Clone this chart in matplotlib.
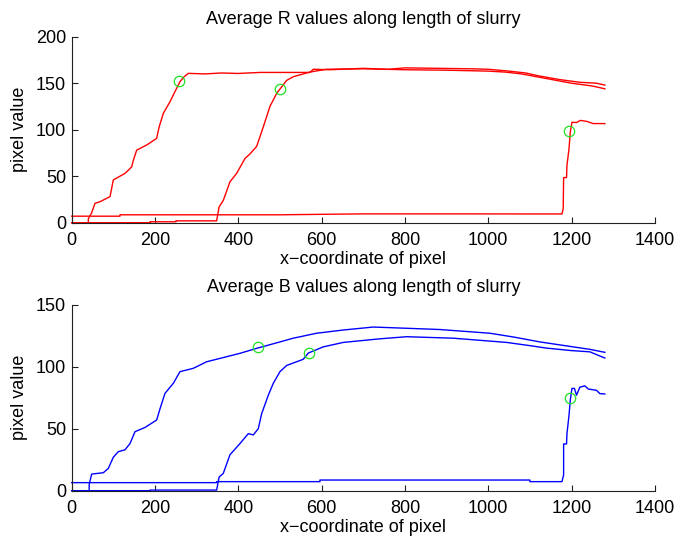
import matplotlib
matplotlib.use("Agg")
import matplotlib.pyplot as plt

plt.rcParams['font.family'] = ['Liberation Sans', 'DejaVu Sans']
plt.rcParams['font.size'] = 13

# ---------------- R channel ----------------
r_a_x = [0, 40, 40, 48, 56, 68, 92, 100, 128, 144, 148, 156, 180, 204, 210, 220, 236, 248, 260, 270, 280,
         320, 360, 400, 452, 500, 572, 580, 620, 700, 760, 800, 880, 960, 1000, 1050, 1090, 1120, 1170, 1220, 1260, 1280]
r_a_y = [0, 0, 4, 10.7, 20.8, 22.6, 28, 46, 53, 60, 67, 78, 83.5, 90.7, 103, 117.6, 130, 141, 151.6, 157, 160.6,
         160, 161, 160.5, 161.6, 161.6, 161.6, 165, 164.5, 166, 165, 166.5, 166, 165.5, 165, 163, 161, 158, 154, 151, 150, 148]
r_b_x = [0, 188, 188, 250, 250, 348, 354, 364, 380, 396, 416, 428, 444, 460, 476, 492, 504, 516, 532, 548, 572, 612,
         700, 800, 900, 1000, 1040, 1080, 1140, 1200, 1250, 1280]
r_b_y = [0, 0, 1, 1, 2, 2, 17, 24, 44, 53, 69, 74, 82, 103, 125, 139, 146, 153, 157, 159, 162, 165,
         165.5, 164.5, 164, 163, 162, 160, 155, 150, 147, 144]
r_c_x = [0, 116, 116, 500, 600, 700, 900, 1100, 1177, 1180, 1181, 1188, 1189, 1194, 1197, 1201, 1212, 1221, 1236, 1252, 1280]
r_c_y = [7, 7, 8.5, 8.5, 9, 9.5, 9.5, 9.4, 9.4, 15, 48.5, 48.5, 61.7, 79.6, 97.5, 108, 107.7, 110, 109, 106.6, 106.6]
r_mark_x = [258, 500, 1195]
r_mark_y = [152, 144, 98.5]

# ---------------- B channel ----------------
b_a_x = [0, 42, 42, 48, 76, 88, 100, 112, 128, 140, 152, 176, 204, 212, 224, 244, 260, 292, 324, 356, 404,
         444, 500, 532, 588, 652, 724, 804, 884, 1004, 1060, 1124, 1164, 1204, 1244, 1280]
b_a_y = [0, 0, 5, 13.4, 14.5, 18, 27, 31.5, 33, 38, 47.6, 51, 57, 66, 78.5, 86.6, 96, 98.7, 104, 106.7, 110.8,
         114.8, 120, 123, 127, 129.6, 132, 131, 130, 127, 124, 120, 118, 116, 114, 111.6]
b_b_x = [0, 188, 188, 348, 354, 364, 380, 404, 424, 436, 448, 456, 472, 484, 500, 516, 556, 568, 604, 652,
         740, 804, 916, 1044, 1100, 1140, 1200, 1244, 1280]
b_b_y = [0, 0, 0.5, 0.5, 11, 14, 29, 38, 46, 45, 50, 62, 77, 86.6, 96, 101, 106, 111, 116, 119.6,
         122.5, 124.2, 123, 119.6, 117, 115, 113, 112, 107]
b_c_x = [0, 348, 348, 596, 596, 1100, 1100, 1177, 1181, 1181, 1188, 1189, 1194, 1197, 1201, 1207, 1212, 1220,
         1232, 1240, 1260, 1268, 1280]
b_c_y = [6.5, 6.5, 7.3, 7.3, 8.6, 8.6, 7.3, 7.3, 12.7, 37.7, 37.7, 46, 61, 73, 82.5, 82.5, 77, 83.5,
         84.6, 82, 81, 78.3, 78]
b_mark_x = [447, 570, 1197]
b_mark_y = [116, 111, 75]

titles = ["Average R values along length of slurry", "Average B values along length of slurry"]
x_ticks = [0, 200, 400, 600, 800, 1000, 1200, 1400]
r_yticks = [0, 50, 100, 150, 200]
b_yticks = [0, 50, 100, 150]

fig = plt.figure(figsize=(6.8, 5.4), dpi=100)
ax1 = fig.add_axes([0.1054, 0.5876, 0.8576, 0.3444])
ax2 = fig.add_axes([0.1054, 0.0913, 0.8576, 0.3444])

green = '#22e022'

def style(ax, yticks, title):
    ax.set_xlim(0, 1400)
    ax.set_ylim(yticks[0], yticks[-1])
    ax.set_xticks(x_ticks)
    ax.set_yticks(yticks)
    for s in ['top', 'right']:
        ax.spines[s].set_visible(False)
    for s in ['left', 'bottom']:
        ax.spines[s].set_color('#202020')
        ax.spines[s].set_linewidth(0.8)
    ax.tick_params(direction='in', length=4, width=0.8, color='#202020', labelsize=13)
    ax.tick_params(axis='x', pad=7)
    ax.tick_params(axis='y', pad=4)
    ax.set_title(title, fontsize=13, pad=9)
    ax.set_xlabel("x\u2212coordinate of pixel", fontsize=13, labelpad=1)
    ax.set_ylabel("pixel value", fontsize=13, labelpad=6)

for xs, ys in [(r_a_x, r_a_y), (r_b_x, r_b_y), (r_c_x, r_c_y)]:
    ax1.plot(xs, ys, color='red', lw=1.0, clip_on=False)
ax1.plot(r_mark_x, r_mark_y, 'o', ms=7.5, mfc='none', mec=green, mew=0.9)
style(ax1, r_yticks, titles[0])

for xs, ys in [(b_a_x, b_a_y), (b_b_x, b_b_y), (b_c_x, b_c_y)]:
    ax2.plot(xs, ys, color='blue', lw=1.0, clip_on=False)
ax2.plot(b_mark_x, b_mark_y, 'o', ms=7.5, mfc='none', mec=green, mew=0.9)
style(ax2, b_yticks, titles[1])

fig.savefig("out.png", dpi=100)
